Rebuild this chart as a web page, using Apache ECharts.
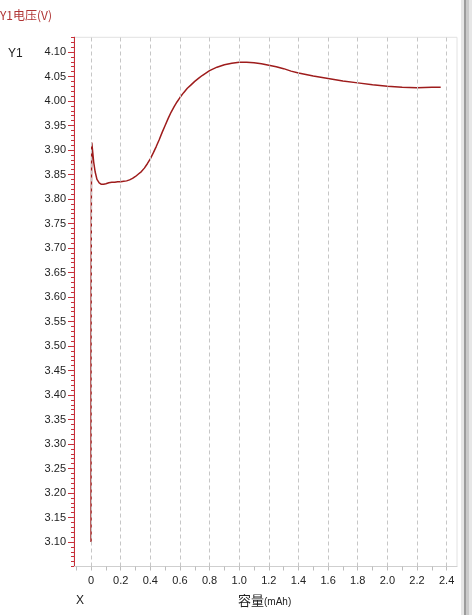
<!DOCTYPE html>
<html>
<head>
<meta charset="utf-8">
<script src="https://cdn.jsdelivr.net/npm/echarts@6/dist/echarts.min.js"></script>
<style>
html,body{margin:0;padding:0;background:#fff;}
#c{width:472px;height:615px;}
</style>
</head>
<body>
<div id="c"></div>
<script>
// ---- data ----
var capacity = [0, 0, 0.002, 0.005, 0.01, 0.018, 0.028, 0.04, 0.055, 0.07, 0.085, 0.10, 0.12, 0.14, 0.16, 0.18, 0.20, 0.22, 0.24, 0.26, 0.28, 0.30, 0.32, 0.34, 0.36, 0.38, 0.40, 0.42, 0.44, 0.46, 0.48, 0.50, 0.52, 0.54, 0.56, 0.58, 0.60, 0.625, 0.65, 0.675, 0.70, 0.725, 0.75, 0.775, 0.80, 0.85, 0.90, 0.95, 1.0, 1.05, 1.1, 1.15, 1.2, 1.25, 1.3, 1.35, 1.4, 1.5, 1.6, 1.7, 1.8, 1.9, 2.0, 2.1, 2.2, 2.3, 2.36];
var voltage  = [3.10, 3.50, 3.80, 3.915, 3.900, 3.875, 3.855, 3.840, 3.833, 3.830, 3.830, 3.831, 3.833, 3.834, 3.834, 3.835, 3.835, 3.836, 3.837, 3.839, 3.842, 3.846, 3.851, 3.856, 3.863, 3.872, 3.882, 3.894, 3.907, 3.921, 3.936, 3.950, 3.964, 3.977, 3.988, 3.998, 4.007, 4.017, 4.026, 4.033, 4.040, 4.046, 4.052, 4.057, 4.062, 4.069, 4.074, 4.077, 4.079, 4.079, 4.078, 4.076, 4.073, 4.070, 4.066, 4.061, 4.057, 4.051, 4.046, 4.041, 4.037, 4.033, 4.030, 4.028, 4.027, 4.028, 4.028];
var xTickLabels = [0, 0.2, 0.4, 0.6, 0.8, 1.0, 1.2, 1.4, 1.6, 1.8, 2.0, 2.2, 2.4];
var yTickLabels = [3.10, 3.15, 3.20, 3.25, 3.30, 3.35, 3.40, 3.45, 3.50, 3.55, 3.60, 3.65, 3.70, 3.75, 3.80, 3.85, 3.90, 3.95, 4.00, 4.05, 4.10];
var titleY = 'Y1电压(V)';
var nameY = 'Y1';
var nameX = 'X';
var titleX = '容量';
var unitX = '(mAh)';

// ---- build ----
var pts = capacity.map(function (x, i) { return [x, voltage[i]]; });
var xMinorTicks = [];
for (var k = -1; k <= 24; k++) xMinorTicks.push(Math.round(k * 10) / 100);
var yMinor = [];
for (var j = 305; j <= 413; j++) yMinor.push(j / 100);

var FONT = '"Liberation Sans", Arial, sans-serif';
var RED = '#c8303a';

var chart = echarts.init(document.getElementById('c'), null, {renderer: 'canvas'});
chart.setOption({
  animation: false,
  backgroundColor: '#ffffff',
  grid: {left: 74, top: 37.3, width: 383, height: 529.2, show: true, borderColor: '#e2e2e2', borderWidth: 1, backgroundColor: 'transparent'},
  xAxis: [{
    type: 'value', min: -0.115, max: 2.47,
    axisLine: {show: true, onZero: false, lineStyle: {color: '#cfcfcf', width: 1}},
    axisTick: {show: true, length: 4, customValues: xMinorTicks, lineStyle: {color: '#bdbdbd'}},
    axisLabel: {show: true, customValues: xTickLabels, margin: 9, color: '#222', fontSize: 11, fontFamily: FONT,
      formatter: function (v) { return v === 0 ? '0' : v.toFixed(1); }},
    splitLine: {show: false}
  }],
  yAxis: [{
    type: 'value', min: 3.05, max: 4.13, position: 'left',
    axisLine: {show: true, onZero: false, lineStyle: {color: RED, width: 1}},
    axisTick: {show: true, length: 3, customValues: yMinor, lineStyle: {color: RED}},
    axisLabel: {show: false},
    splitLine: {show: false}
  }, {
    type: 'value', min: 3.05, max: 4.13, position: 'left', offset: 0,
    axisLine: {show: true, onZero: false, lineStyle: {color: RED, width: 1}},
    axisTick: {show: true, length: 6, customValues: yTickLabels, lineStyle: {color: RED}},
    axisLabel: {show: true, customValues: yTickLabels, margin: 8, color: '#222', fontSize: 11, fontFamily: FONT,
      formatter: function (v) { return v.toFixed(2); }},
    splitLine: {show: false}
  }],
  series: [{
    type: 'line', xAxisIndex: 0, yAxisIndex: 0,
    data: pts, showSymbol: false, symbol: 'none', smooth: false,
    lineStyle: {color: '#9e1c1c', width: 1.5},
    markLine: {
      silent: true, symbol: ['none', 'none'], animation: false,
      label: {show: false},
      lineStyle: {color: '#c6c6c6', type: [4, 3], width: 1},
      data: xTickLabels.map(function (v) { return {xAxis: v}; })
    },
    z: 3
  }],
  graphic: [
    {type: 'text', left: 0, top: 9, style: {text: titleY, fill: '#b03434', font: '12px "Noto Sans CJK SC", ' + FONT}},
    {type: 'text', left: 8, top: 48, style: {text: nameY, fill: '#222', font: '12px ' + FONT}},
    {type: 'text', left: 76, top: 595, style: {text: nameX, fill: '#222', font: '12px ' + FONT}},
    {type: 'text', left: 238, top: 594, style: {
      text: '{a|' + titleX + '}{b|' + unitX + '}',
      rich: {a: {fontSize: 13, fontFamily: '"Noto Sans CJK SC", sans-serif', fill: '#222', color: '#222'},
             b: {fontSize: 10, fontFamily: FONT, fill: '#222', color: '#222', padding: [3, 0, 0, 0]}}
    }},
    {type: 'rect', shape: {x: 461, y: 0, width: 11, height: 615}, style: {fill: '#e6e6e6'}},
    {type: 'rect', shape: {x: 464, y: 0, width: 2, height: 615}, style: {fill: '#9c9c9c'}},
    {type: 'rect', shape: {x: 466, y: 0, width: 3, height: 615}, style: {fill: '#cacaca'}}
  ]
});
</script>
</body>
</html>
